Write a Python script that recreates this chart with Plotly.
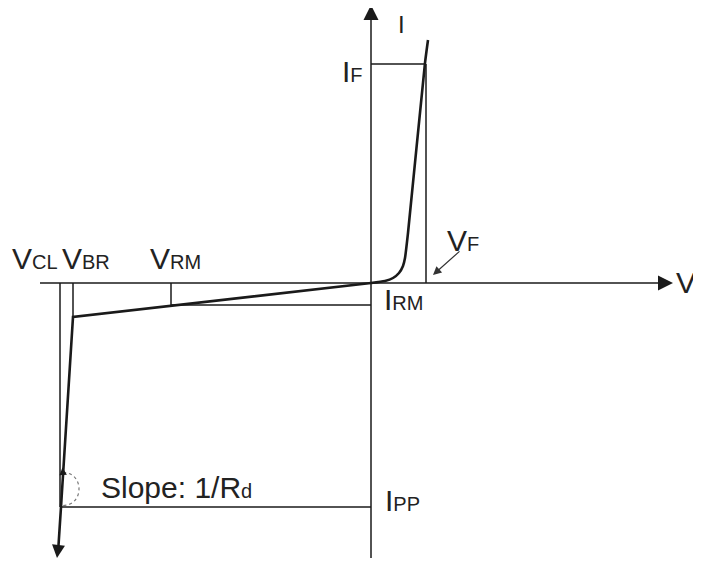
import plotly.graph_objects as go

# ---- data (arbitrary units: V horizontal, I vertical) ----
marker_names = ["VCL", "VBR", "VRM", "VF"]
V_CL, V_BR, V_RM, V_F = -31.1, -29.8, -20.0, 5.5
I_F, I_RM, I_PP = 21.9, -2.2, -22.4

# forward branch of the I-V curve
fwd_v = [0.0, 1.4, 2.2, 2.8, 3.2, 3.4, 3.7, 5.4, 5.7]
fwd_i = [0.0, 0.2, 0.5, 1.0, 1.7, 2.5, 5.0, 22.0, 24.3]

# reverse (breakdown) branch
rev_v = [0.0, -29.8, -31.0, -31.3]
rev_i = [0.0, -3.4, -22.4, -27.0]
rev_tip = (-31.4, -27.5)

# axes extents
x_axis = (-33.1, 29.8)
y_axis = (-27.5, 27.5)

INK = "#1a1a1a"
FONT = "Liberation Sans, Arial, sans-serif"
BIG, SUB = 30, 20

fig = go.Figure()

# guide lines
guides = [
    ([0, V_F], [I_F, I_F]),
    ([V_F, V_F], [I_F, 0]),
    ([V_RM, V_RM], [0, I_RM]),
    ([V_RM, 0], [I_RM, I_RM]),
    ([V_BR, V_BR], [0, rev_i[1]]),
    ([V_CL, V_CL], [0, I_PP]),
    ([V_CL, 0], [I_PP, I_PP]),
]
for gx, gy in guides:
    fig.add_trace(go.Scatter(x=gx, y=gy, mode="lines",
                             line=dict(color=INK, width=1.5),
                             hoverinfo="skip", showlegend=False))

# axes lines
fig.add_trace(go.Scatter(x=list(x_axis), y=[0, 0], mode="lines",
                         line=dict(color=INK, width=1.5), showlegend=False))
fig.add_trace(go.Scatter(x=[0, 0], y=list(y_axis), mode="lines",
                         line=dict(color=INK, width=1.5), showlegend=False))

# curves
fig.add_trace(go.Scatter(x=fwd_v, y=fwd_i, mode="lines",
                         line=dict(color=INK, width=2.6, shape="spline", smoothing=0.6),
                         showlegend=False))
fig.add_trace(go.Scatter(x=rev_v, y=rev_i, mode="lines",
                         line=dict(color=INK, width=2.6), showlegend=False))

# dotted semicircle (slope indicator), as a cubic Bezier
cx, cy, rx, ry = -30.8, -20.6, 1.6, 1.65
k = 4.0 / 3.0
fig.add_shape(type="path",
              path=f"M {cx},{cy + ry} C {cx + k * rx},{cy + ry} {cx + k * rx},{cy - ry} {cx},{cy - ry}",
              line=dict(color="#777777", width=1.2, dash="dot"))

anns = []
# axis arrowheads
anns.append(dict(x=x_axis[1] + 0.4, y=0, ax=x_axis[1] - 1.0, ay=0, axref="x", ayref="y",
                 showarrow=True, arrowhead=2, arrowsize=2.0, arrowwidth=1.5,
                 arrowcolor=INK, text=""))
anns.append(dict(x=0, y=y_axis[1] + 0.3, ax=0, ay=y_axis[1] - 1.0, axref="x", ayref="y",
                 showarrow=True, arrowhead=2, arrowsize=2.0, arrowwidth=1.5,
                 arrowcolor=INK, text=""))
# arrow at end of reverse curve
anns.append(dict(x=rev_tip[0], y=rev_tip[1], ax=rev_v[-1] + 0.05, ay=rev_i[-1] + 0.8,
                 axref="x", ayref="y", showarrow=True, arrowhead=2, arrowsize=1.3,
                 arrowwidth=2, arrowcolor=INK, text=""))
# small upward arrow at top of the slope arc
anns.append(dict(x=cx - 0.05, y=cy + ry + 0.5, ax=cx + 0.02, ay=cy + ry - 0.3,
                 axref="x", ayref="y", showarrow=True, arrowhead=2, arrowsize=1.0,
                 arrowwidth=1.5, arrowcolor=INK, text=""))
# VF pointer arrow
anns.append(dict(x=6.2, y=0.8, ax=9.0, ay=3.3, axref="x", ayref="y",
                 showarrow=True, arrowhead=2, arrowsize=1.4, arrowwidth=1.2,
                 arrowcolor="#333333", text=""))


def lab(txt, sub, x, y, xanchor="left", size=BIG):
    t = txt if not sub else f"{txt}<span style='font-size:{SUB}px'>{sub}</span>"
    anns.append(dict(x=x, y=y, text=t, showarrow=False, xanchor=xanchor,
                     yanchor="middle", font=dict(family=FONT, size=size, color="#222222")))


lab("I", "", 2.5, 25.9, size=24)
lab("I", "F", -0.6, 21.2, xanchor="right")
lab("V", "F", 7.4, 4.3)
lab("V", "", 30.3, 0.1)
lab("V", "CL", -36.1, 2.5)
lab("V", "BR", -31.1, 2.5)
lab("V", "RM", -22.3, 2.5)
lab("I", "RM", 1.1, -1.6)
lab("I", "PP", 1.2, -21.7)
lab("Slope: 1/R", "d", -27.2, -20.4)

# The page body has an 8px margin: size the figure and ranges so that
# 10 px = 1 unit and the origin lands at window pixel (371, 283).
W, H = 693, 555
fig.update_layout(
    width=W, height=H,
    margin=dict(l=0, r=0, t=0, b=0),
    paper_bgcolor="white", plot_bgcolor="white",
    xaxis=dict(range=[-36.3, -36.3 + W / 10], visible=False, fixedrange=True),
    yaxis=dict(range=[27.5 - H / 10, 27.5], visible=False, fixedrange=True),
    annotations=anns,
    showlegend=False,
)

fig.write_html("out.html")
